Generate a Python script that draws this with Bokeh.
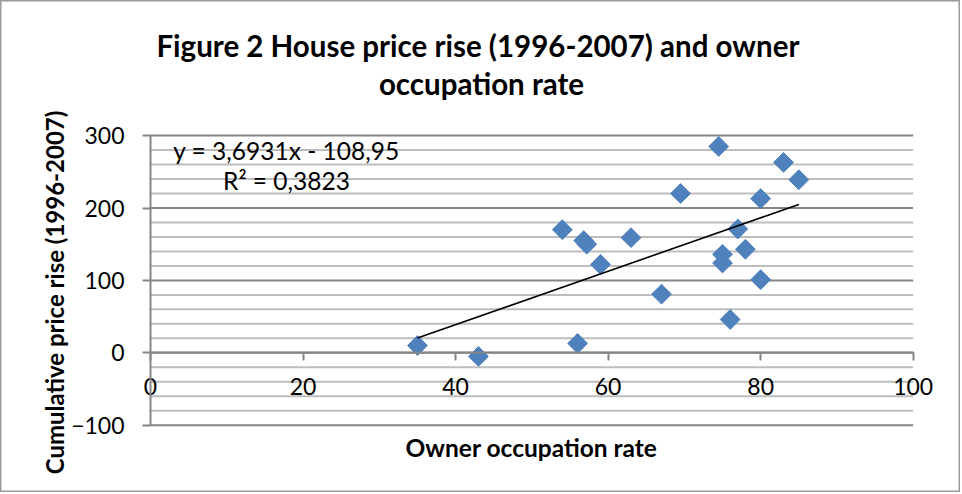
import numpy as np
from bokeh.plotting import figure
from bokeh.models import Range1d, FixedTicker, Label
from bokeh.embed import file_html
from bokeh.resources import INLINE

# ---- data ----
owner_rate = [35, 43, 54, 56.8, 57.2, 59, 63, 56, 67, 69.5,
              74.5, 75, 75, 76, 77, 78, 80, 80, 83, 85]
price_rise = [10, -5, 170, 155, 150, 122, 159, 13, 81, 220,
              285, 136, 124, 46, 171, 143, 101, 213, 263, 239]
trend_slope = 3.6931
trend_intercept = -108.95
trend_text = "y = 3,6931x - 108,95"
r2_text = "R\u00b2 = 0,3823"
x_ticks = [0, 20, 40, 60, 80, 100]
y_ticks = [-100, 0, 100, 200, 300]
y_minor = [-80, -60, -40, -20, 20, 40, 60, 80, 120, 140, 160, 180,
           220, 240, 260, 280]
title_line1 = "Figure  2 House price rise (1996-2007) and owner"
title_line2 = "occupation rate"
x_title = "Owner occupation rate"
y_title = "Cumulative price rise (1996-2007)"

# ---- styling / layout ----
FONT = "Lato"
GRID_MAJOR = "#868686"
GRID_MINOR = "#bdbdbd"
BLUE = "#4F81BD"
W, H = 960, 492
# the plotting frame covers the whole canvas; the visible value box
# (0..100 x -100..300) sits inside it like the Excel plot area
X_PX0, X_PX_PER = 150.0, 7.627     # pixel of x=0, pixels per unit
Y_PX0, Y_PX_PER = 352.3, 0.724     # pixel of y=0, pixels per unit

p = figure(width=W, height=H, output_backend="svg", toolbar_location=None,
           title=None,
           x_range=Range1d(-X_PX0 / X_PX_PER, (W - X_PX0) / X_PX_PER),
           y_range=Range1d((Y_PX0 - H) / Y_PX_PER, Y_PX0 / Y_PX_PER))
p.min_border = 0
p.background_fill_color = "white"
p.border_fill_color = "white"
p.outline_line_color = "#9a9a9a"
p.outline_line_width = 2
p.grid.visible = False

# horizontal gridlines limited to the value box
xa, xb = x_ticks[0], x_ticks[-1]
p.segment(x0=[xa] * len(y_minor), y0=y_minor, x1=[xb] * len(y_minor), y1=y_minor,
          line_color=GRID_MINOR, line_width=2)
p.segment(x0=[xa] * len(y_ticks), y0=y_ticks, x1=[xb] * len(y_ticks), y1=y_ticks,
          line_color=GRID_MAJOR, line_width=2)

# y axis at x = 0
ya = p.yaxis[0]
ya.fixed_location = 0
ya.bounds = (y_ticks[0], y_ticks[-1])
ya.ticker = FixedTicker(ticks=y_ticks)
ya.axis_line_color = GRID_MAJOR
ya.axis_line_width = 2
ya.major_tick_line_color = GRID_MAJOR
ya.major_tick_line_width = 2
ya.major_tick_in = 0
ya.major_tick_out = 8
ya.minor_tick_line_color = None
ya.major_label_text_font = FONT
ya.major_label_text_font_size = "23px"
ya.major_label_text_color = "black"
ya.major_label_standoff = 18

# x axis crossing at y = 0
xax = p.xaxis[0]
xax.fixed_location = 0
xax.bounds = (x_ticks[0], x_ticks[-1])
xax.ticker = FixedTicker(ticks=x_ticks)
xax.axis_line_color = GRID_MAJOR
xax.axis_line_width = 2
xax.major_tick_line_color = GRID_MAJOR
xax.major_tick_line_width = 2
xax.major_tick_in = 0
xax.major_tick_out = 8
xax.minor_tick_line_color = None
xax.major_label_text_font = FONT
xax.major_label_text_font_size = "23px"
xax.major_label_text_color = "black"
xax.major_label_standoff = 17

# data
p.scatter(owner_rate, price_rise, marker="square", size=14, angle=np.pi / 4,
          fill_color=BLUE, line_color=BLUE)
tx = np.array([min(owner_rate), max(owner_rate)], dtype=float)
p.line(tx, trend_slope * tx + trend_intercept, line_color="black", line_width=1.6)

# texts (screen units, origin bottom-left of canvas)
def add_text(x, y, text, size, bold=False, angle=0.0):
    p.add_layout(Label(x=x, y=H - y, x_units="screen", y_units="screen",
                       text=text, text_align="center", text_baseline="middle",
                       text_font=FONT, text_font_size=size,
                       text_font_style="bold" if bold else "normal",
                       text_color="black", angle=angle))

add_text(481, 45, title_line1, "29.5px", bold=True)
add_text(481, 83, title_line2, "29.5px", bold=True)
add_text(286, 150, trend_text, "24.5px")
add_text(286, 180, r2_text, "24.5px")
add_text(531, 447, x_title, "24.5px", bold=True)
add_text(54, 292, y_title, "24px", bold=True, angle=np.pi / 2)

open("out.html", "w").write(file_html(p, INLINE))
